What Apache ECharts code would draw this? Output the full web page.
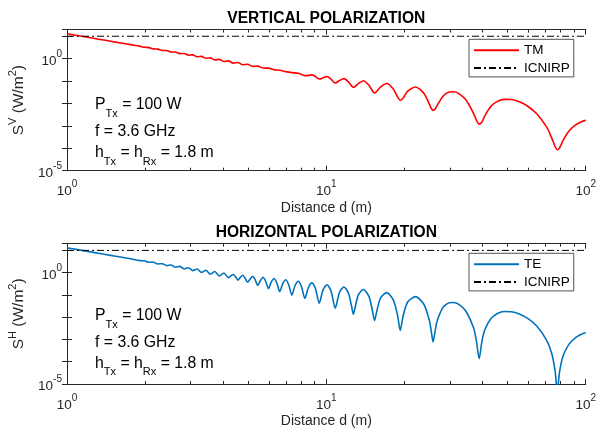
<!DOCTYPE html>
<html><head><meta charset="utf-8">
<script src="https://cdn.jsdelivr.net/npm/echarts@6/dist/echarts.min.js"></script>
<style>html,body{margin:0;padding:0;background:#fff}#c{width:598px;height:432px}</style>
</head><body><div id="c"></div>
<script>
// ---- data ----
const distTM = [1,1.097,1.217,1.342,1.473,1.61,1.755,1.9075,1.987,2.069,2.153,2.24,2.33,2.423,2.5185,2.618,2.721,2.828,2.939,3.055,3.175,3.301,3.432,3.57,3.714,3.866,4.025,4.193,4.371,4.56,4.759,4.97,5.1975,5.44,5.70,5.98,6.283,6.61,6.968,7.36,7.789,8.265,8.522,8.794,9.081,9.39,9.711,10.056,10.424,10.82,11.239,11.692,12.182,12.71,13.284,13.909,14.592,15.34,16.173,17.093,18.119,18.795,19.27,19.776,20.58,22.071,23.79,24.955,25.368,25.80,26.236,26.693,28.161,29.8,31.0,32.3,34.466,36.94,37.85,38.84,39.796,40.847,43.125,45.67,48.53,51.78,55.48,59.76,64.75,70.65,74.01,76.19,77.72,79.31,81.81,86.36,91.45,97.17,100];
const sTM = [13.0,10.8,8.78,7.22,5.99,5.015,4.22,3.63,3.227,3.11,2.732,2.669,2.314,2.299,1.968,1.981,1.676,1.708,1.428,1.472,1.216,1.266,1.036,1.086,0.88,0.932,0.747,0.792,0.634,0.67,0.536,0.56,0.453,0.464,0.381,0.378,0.319,0.305,0.2635,0.2375,0.223,0.1754,0.1794,0.1889,0.1585,0.1234,0.1393,0.16,0.1216,0.0821,0.1053,0.1291,0.0905,0.0515,0.0772,0.1033,0.065,0.0294,0.054,0.0775,0.0443,0.0201,0.0139,0.0175,0.0356,0.0546,0.028,0.00934,0.00613,0.0049,0.00548,0.00783,0.0212,0.0323,0.0331,0.0283,0.0149,0.00365,0.00186,0.00121,0.00148,0.00282,0.00745,0.01236,0.01524,0.01502,0.01186,0.00753,0.00346,0.000902,0.000286,0.00012,0.000086,0.000105,0.000224,0.000602,0.0011,0.001605,0.00176];
const distTE = [1,1.097,1.217,1.342,1.473,1.61,1.755,1.9075,1.987,2.069,2.153,2.24,2.33,2.423,2.5185,2.618,2.721,2.828,2.939,3.055,3.175,3.301,3.432,3.57,3.714,3.866,4.025,4.193,4.281,4.371,4.464,4.56,4.657,4.759,4.863,4.97,5.082,5.1975,5.317,5.44,5.568,5.70,5.837,5.98,6.128,6.283,6.443,6.61,6.785,6.968,7.159,7.36,7.569,7.789,8.021,8.265,8.522,8.794,9.081,9.39,9.711,10.056,10.424,10.82,11.239,11.692,12.182,12.494,12.71,12.934,13.284,13.909,14.592,15.035,15.34,15.665,16.173,17.093,18.119,18.795,19.27,19.776,20.58,22.071,23.79,24.955,25.368,25.80,26.236,26.693,28.161,29.8,31.0,32.3,34.466,36.94,37.85,38.84,39.796,40.847,43.125,45.67,48.53,51.78,55.48,59.76,64.75,70.65,74.01,76.19,77.72,79.31,81.81,86.36,91.45,97.17,100];
const sTE = [13.0,10.8,8.78,7.22,5.99,5.015,4.22,3.466,3.412,2.917,2.929,2.463,2.531,2.075,2.2,1.748,1.917,1.467,1.675,1.231,1.466,1.028,1.287,0.854,1.12,0.712,0.971,0.592,0.718,0.83,0.664,0.462,0.6125,0.766,0.564,0.371,0.52,0.693,0.48,0.267,0.4425,0.625,0.407,0.194,0.373,0.548,0.341,0.1416,0.312,0.481,0.285,0.0983,0.258,0.411,0.233,0.07,0.211,0.349,0.19,0.043,0.169,0.2855,0.15,0.0256,0.1324,0.2285,0.1161,0.0331,0.0135,0.0303,0.1006,0.1764,0.0857,0.0214,0.0071,0.0195,0.072,0.127,0.0596,0.013,0.00257,0.01164,0.048,0.0836,0.0371,0.00722,0.00241,0.00078,0.00221,0.0063,0.02755,0.0446,0.0458,0.0386,0.019,0.00333,0.000925,0.000137,0.000828,0.00273,0.00868,0.01474,0.01812,0.01769,0.01401,0.00884,0.004,0.000945,0.000227,0.000039,0.000005,0.000036,0.000185,0.000637,0.00122,0.00181,0.002];
const icnirpDist = [1, 100];
const icnirpS = [10, 10];
const xMinorTicks = [2,3,4,5,6,7,8,9,20,30,40,50,60,70,80,90];
const yLabelExps = [0, -5];
const titles = ['VERTICAL POLARIZATION', 'HORIZONTAL POLARIZATION'];
const xName = 'Distance d (m)';

// ---- styles ----
const FONT = '"Liberation Sans", Arial, Helvetica, sans-serif';
const AX = '#262626';
const grids = [
  {left: 67, right: 12.3, top: 29.5, height: 141.2, outerBoundsMode: 'none'},
  {left: 67, right: 12.3, top: 243.7, height: 140.3, outerBoundsMode: 'none'}
];
const supRich = {
  b: {fontSize: 13.5, fontFamily: FONT, color: AX, lineHeight: 19, verticalAlign: 'bottom'},
  s: {fontSize: 10, fontFamily: FONT, color: AX, lineHeight: 10, verticalAlign: 'top'}
};
function powLabel(v) {
  const e = Math.log10(v), r = Math.round(e);
  if (Math.abs(e - r) > 1e-6) return '';
  return '{b|10}{s|' + r + '}';
}
const xAxes = [], yAxes = [];
[0, 1].forEach(g => {
  const base = {type: 'log', logBase: 10, min: 1, max: 100, gridIndex: g, splitLine: {show: false}, minorTick: {show: false}};
  // minor-tick helper axis: linear in log10(d), spanning the same decades
  const minorBase = {type: 'value', min: 0, max: 2, gridIndex: g, splitLine: {show: false}, axisLine: {show: false},
    axisLabel: {show: false},
    axisTick: {show: true, inside: true, length: 3, customValues: xMinorTicks.map(v => Math.log10(v)), lineStyle: {color: AX, width: 1}}};
  xAxes.push(Object.assign({}, base, {
    position: 'bottom',
    axisLine: {show: true, lineStyle: {color: AX, width: 1}},
    axisTick: {show: true, inside: true, length: 5, lineStyle: {color: AX, width: 1}},
    axisLabel: {show: true, margin: 9, formatter: powLabel, rich: supRich},
    name: xName, nameLocation: 'middle', nameGap: 30,
    nameTextStyle: {fontSize: 14, fontFamily: FONT, color: AX}
  }));
  xAxes.push(Object.assign({}, minorBase, {position: 'bottom'}));
  xAxes.push(Object.assign({}, base, {
    position: 'top',
    axisLine: {show: true, lineStyle: {color: AX, width: 1}},
    axisTick: {show: true, inside: true, length: 5, lineStyle: {color: AX, width: 1}},
    axisLabel: {show: false}
  }));
  xAxes.push(Object.assign({}, minorBase, {position: 'top'}));
  const ybase = {type: 'log', logBase: 10, min: 1e-5, max: 20, gridIndex: g, splitLine: {show: false}, splitNumber: 5};
  const sym = g === 0 ? 'V' : 'H';
  yAxes.push(Object.assign({}, ybase, {
    position: 'left',
    axisLine: {show: true, lineStyle: {color: AX, width: 1}},
    axisTick: {show: true, inside: true, length: 5, lineStyle: {color: AX, width: 1}},
    axisLabel: {show: true, margin: 5, formatter: function (v) {
      const e = Math.log10(v), r = Math.round(e);
      if (Math.abs(e - r) > 1e-6 || yLabelExps.indexOf(r) < 0) return '';
      return '{b|10}{s|' + r + '}';
    }, rich: supRich},
    name: '{b|S}{s|' + sym + '}{b| (W/m}{s|2}{b|)}',
    nameLocation: 'middle', nameRotate: 90, nameGap: 28,
    nameTextStyle: {rich: {
      b: {fontSize: 15.5, fontFamily: FONT, color: AX, lineHeight: 20, verticalAlign: 'bottom'},
      s: {fontSize: 11, fontFamily: FONT, color: AX, lineHeight: 11, verticalAlign: 'top'}
    }}
  }));
  yAxes.push(Object.assign({}, ybase, {
    position: 'right',
    axisLine: {show: true, lineStyle: {color: AX, width: 1}},
    axisTick: {show: true, inside: true, length: 5, lineStyle: {color: AX, width: 1}},
    axisLabel: {show: false}
  }));
});

function pairs(xs, ys) { return xs.map((x, i) => [x, ys[i]]); }
const DASHDOT = [7, 3, 2, 3];
const series = [
  {type: 'line', name: 'TM', xAxisIndex: 0, yAxisIndex: 0, data: pairs(distTM, sTM), symbol: 'none', smooth: 0.25,
   lineStyle: {color: '#FF0000', width: 1.6}, itemStyle: {color: '#FF0000'}},
  {type: 'line', name: 'ICNIRP', xAxisIndex: 0, yAxisIndex: 0, data: pairs(icnirpDist, icnirpS), symbol: 'none',
   lineStyle: {color: '#000', width: 1, type: DASHDOT}, itemStyle: {color: '#000'}},
  {type: 'line', name: 'TE', xAxisIndex: 4, yAxisIndex: 2, data: pairs(distTE, sTE), symbol: 'none', smooth: 0.25,
   lineStyle: {color: '#0072BD', width: 1.6}, itemStyle: {color: '#0072BD'}},
  {type: 'line', name: 'ICNIRP', xAxisIndex: 4, yAxisIndex: 2, data: pairs(icnirpDist, icnirpS), symbol: 'none',
   lineStyle: {color: '#000', width: 1, type: DASHDOT}, itemStyle: {color: '#000'}}
];

const legendBase = {
  orient: 'vertical', left: 469, itemWidth: 45, itemHeight: 14, itemGap: 3.6,
  padding: [4, 4, 2, 4], borderColor: AX, borderWidth: 0.8, backgroundColor: '#fff',
  itemStyle: {opacity: 0},
  textStyle: {fontSize: 13.5, fontFamily: FONT, color: '#000'}, selectedMode: false
};
const legends = [
  Object.assign({}, legendBase, {top: 39.3, data: ['TM', 'ICNIRP']}),
  Object.assign({}, legendBase, {top: 253.3, data: ['TE', 'ICNIRP']})
];

const annRich = {
  n: {fontSize: 15.8, fontFamily: FONT, fill: '#000', lineHeight: 18, verticalAlign: 'top'},
  sub: {fontSize: 11, fontFamily: FONT, fill: '#000', lineHeight: 22, verticalAlign: 'bottom'}
};
function ann(x, y, text) {
  return {type: 'text', x: x, y: y, style: {text: text, rich: annRich, align: 'left', verticalAlign: 'top'}};
}
const annY = [[97, 124, 145], [308, 334.7, 355.3]];
const graphics = [];
[[0, 29.5], [1, 243.7]].forEach(([g, top]) => {
  graphics.push({type: 'text', x: 326.3, y: top - 11, style: {text: titles[g], font: 'bold 15.6px ' + FONT, fill: '#000', align: 'center', verticalAlign: 'middle'}});
  graphics.push(ann(95, annY[g][0], '{n|P}{sub|Tx}{n| = 100 W}'));
  graphics.push(ann(95, annY[g][1], '{n|f = 3.6 GHz}'));
  graphics.push(ann(95, annY[g][2], '{n|h}{sub|Tx}{n| = h}{sub|Rx}{n| = 1.8 m}'));
});

const chart = echarts.init(document.getElementById('c'), null, {renderer: 'canvas'});
chart.setOption({
  animation: false,
  backgroundColor: '#fff',
  grid: grids,
  xAxis: xAxes,
  yAxis: yAxes,
  legend: legends,
  series: series,
  graphic: graphics
});
</script></body></html>
